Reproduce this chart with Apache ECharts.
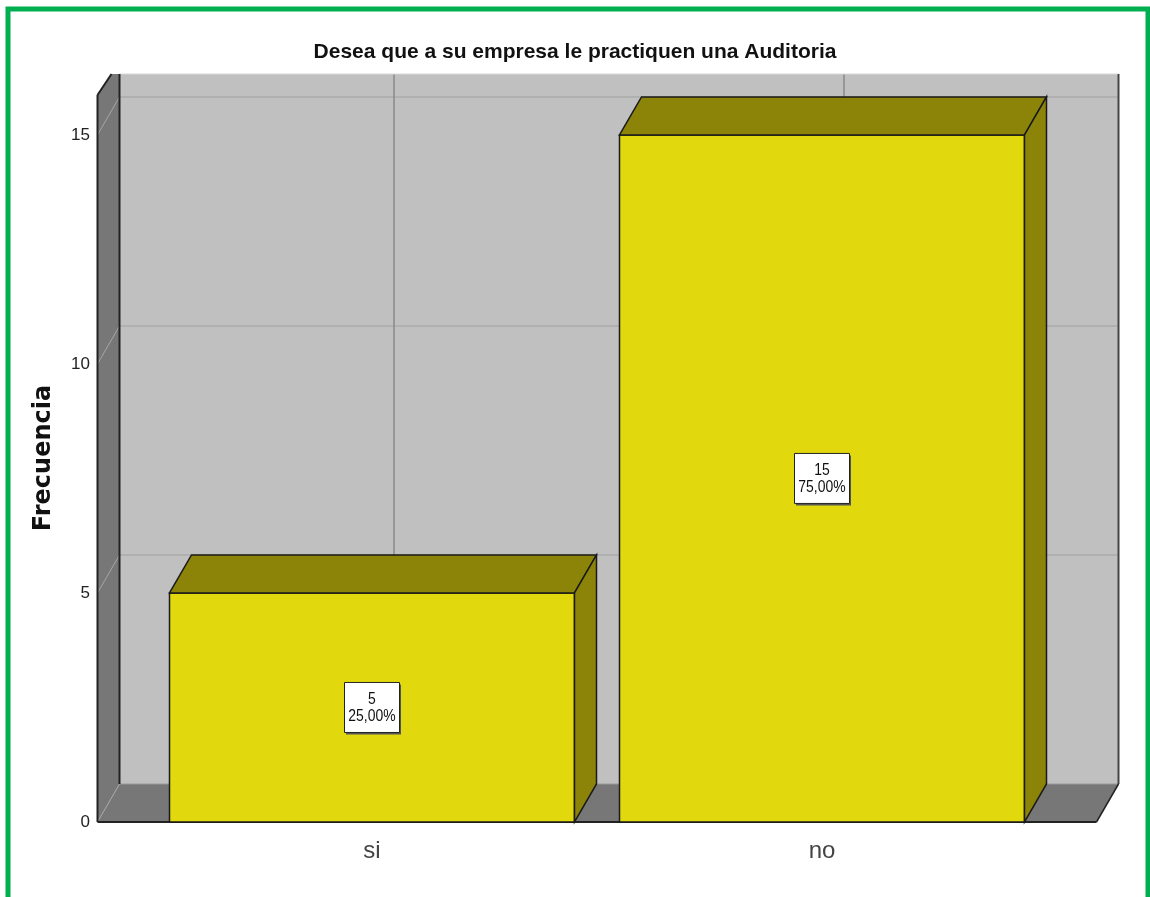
<!DOCTYPE html>
<html>
<head>
<meta charset="utf-8">
<script src="https://cdn.jsdelivr.net/npm/echarts@6/dist/echarts.min.js"></script>
<style>
  html, body { margin: 0; padding: 0; background: #fff; }
  #chart { width: 1150px; height: 897px; }
</style>
</head>
<body>
<div id="chart"></div>
<script>
    var categories = ['si', 'no'];
    var frequencies = [5, 15];
    var percents = ['25,00%', '75,00%'];
    var yTicks = [0, 5, 10, 15];

    var DX = 22, DY = 38;   // depth offset of the 3D box
    var sans = "'Liberation Sans', Arial, sans-serif";

    var myChart = echarts.init(document.getElementById('chart'));

    // walls, floor and gridlines of the SPSS-like box
    function renderBox(params, api) {
        var cs = params.coordSys;
        var band = api.size([1, 0])[0];
        var pad = band * 0.11;
        var y0 = api.coord([0, 0])[1];
        var xl = cs.x - pad, xr = cs.x + cs.width + pad;
        var top = cs.y;
        var kids = [];
        // back wall
        kids.push({ type: 'rect', shape: { x: xl + DX, y: top - DY, width: xr - xl, height: y0 - top },
            style: { fill: '#c0c0c0' } });
        // horizontal gridlines on back wall
        yTicks.forEach(function (v) {
            if (v === 0) return;
            var y = api.coord([0, v])[1] - DY;
            kids.push({ type: 'line', shape: { x1: xl + DX, y1: y, x2: xr + DX, y2: y },
                style: { stroke: '#ababab', lineWidth: 1.5 } });
        });
        // vertical gridlines at category centres
        categories.forEach(function (c, i) {
            var x = api.coord([i, 0])[0] + DX;
            kids.push({ type: 'line', shape: { x1: x, y1: top - DY, x2: x, y2: y0 - DY },
                style: { stroke: '#8a8a8a', lineWidth: 1.5 } });
        });
        kids.push({ type: 'line', shape: { x1: xl + DX, y1: top - DY, x2: xr + DX, y2: top - DY },
            style: { stroke: '#d8d8d8', lineWidth: 1 } });
        // floor
        kids.push({ type: 'polygon', shape: { points: [[xl, y0], [xr, y0], [xr + DX, y0 - DY], [xl + DX, y0 - DY]] },
            style: { fill: '#777777' } });
        kids.push({ type: 'line', shape: { x1: xl + DX, y1: y0 - DY, x2: xr + DX, y2: y0 - DY },
            style: { stroke: '#9a9a9a', lineWidth: 1 } });
        // left wall
        kids.push({ type: 'polygon', shape: { points: [[xl, y0], [xl, top - 17], [xl + 14, top - DY], [xl + DX, top - DY], [xl + DX, y0 - DY]] },
            style: { fill: '#777777' } });
        yTicks.forEach(function (v) {
            var y = api.coord([0, v])[1];
            kids.push({ type: 'line', shape: { x1: xl, y1: y, x2: xl + DX, y2: y - DY },
                style: { stroke: '#a6a6a6', lineWidth: 1 } });
        });
        // dark edges
        var edge = { stroke: '#222', lineWidth: 2 };
        kids.push({ type: 'line', shape: { x1: xl, y1: y0, x2: xl, y2: top - 17 }, style: edge });
        kids.push({ type: 'line', shape: { x1: xl, y1: top - 17, x2: xl + 14, y2: top - DY }, style: edge });
        kids.push({ type: 'line', shape: { x1: xl + DX, y1: top - DY, x2: xl + DX, y2: y0 - DY }, style: edge });
        kids.push({ type: 'line', shape: { x1: xr + DX, y1: top - DY, x2: xr + DX, y2: y0 - DY }, style: { stroke: '#444', lineWidth: 2 } });
        kids.push({ type: 'line', shape: { x1: xl, y1: y0, x2: xr, y2: y0 }, style: edge });
        kids.push({ type: 'line', shape: { x1: xr, y1: y0, x2: xr + DX, y2: y0 - DY }, style: { stroke: '#222', lineWidth: 1.5 } });
        return { type: 'group', children: kids };
    }

    function renderBar(params, api) {
        var i = api.value(0), val = api.value(1);
        var c = api.coord([i, val]);
        var b = api.coord([i, 0]);
        var w = api.size([1, 0])[0] * 0.9;
        var L = c[0] - w / 2, R = c[0] + w / 2, T = c[1], B = b[1];
        var ln = '#1a1a1a';
        var midY = (T + B) / 2;
        return {
            type: 'group',
            children: [
                { type: 'rect', shape: { x: L, y: T, width: w, height: B - T },
                    style: { fill: '#e2d80e', stroke: ln, lineWidth: 1.5 } },
                { type: 'polygon', shape: { points: [[L, T], [L + DX, T - DY], [R + DX, T - DY], [R, T]] },
                    style: { fill: '#8c8408', stroke: ln, lineWidth: 1.5 } },
                { type: 'polygon', shape: { points: [[R, T], [R + DX, T - DY], [R + DX, B - DY], [R, B]] },
                    style: { fill: '#8c8408', stroke: ln, lineWidth: 1.5 } },
                // label box
                { type: 'rect', shape: { x: c[0] - 26, y: midY - 23, width: 55, height: 50 },
                    style: { fill: '#555' } },
                { type: 'rect', shape: { x: c[0] - 27.5, y: midY - 25, width: 55, height: 50 },
                    style: { fill: '#fff', stroke: '#222', lineWidth: 1 } },
                { type: 'text', x: c[0], y: midY, scaleX: 0.82,
                    style: { text: frequencies[params.dataIndex] + '\n' + percents[params.dataIndex],
                        fill: '#111', font: '17px ' + sans, lineHeight: 17,
                        align: 'center', verticalAlign: 'middle' } }
            ]
        };
    }

    var option = {
        animation: false,
        title: {
            text: 'Desea que a su empresa le practiquen una Auditoria',
            left: 'center',
            top: 37,
            textStyle: { fontFamily: sans, fontWeight: 'bold', fontSize: 21, color: '#111' }
        },
        grid: { left: 147, right: 103, top: 112, bottom: 75 },
        xAxis: {
            type: 'category',
            data: categories,
            axisLine: { show: false },
            axisTick: { show: false },
            axisLabel: { margin: 17, fontSize: 24, color: '#444', fontFamily: sans }
        },
        yAxis: {
            type: 'value',
            min: 0,
            max: 15.5,
            interval: 5,
            splitLine: { show: false },
            axisLine: { show: false },
            axisTick: { show: false },
            axisLabel: { margin: 57, fontSize: 17, color: '#222', fontFamily: sans, showMaxLabel: false },
            name: 'Frecuencia',
            nameLocation: 'middle',
            nameGap: 91,
            nameTextStyle: { fontFamily: "'DejaVu Sans', sans-serif", fontWeight: 'bold', fontSize: 24,
                color: '#111', padding: [0, 0, 0, 18] }
        },
        graphic: [{
            type: 'rect',
            shape: { x: 8, y: 9, width: 1140, height: 1000 },
            style: { fill: 'none', stroke: '#00b050', lineWidth: 5 },
            z: 100
        }],
        series: [
            {
                type: 'custom',
                z: 1,
                renderItem: renderBox,
                data: [[0, 0]],
                silent: true
            },
            {
                type: 'custom',
                z: 2,
                renderItem: renderBar,
                data: categories.map(function (c, i) { return [i, frequencies[i]]; })
            }
        ]
    };

    myChart.setOption(option);
</script>
</body>
</html>
